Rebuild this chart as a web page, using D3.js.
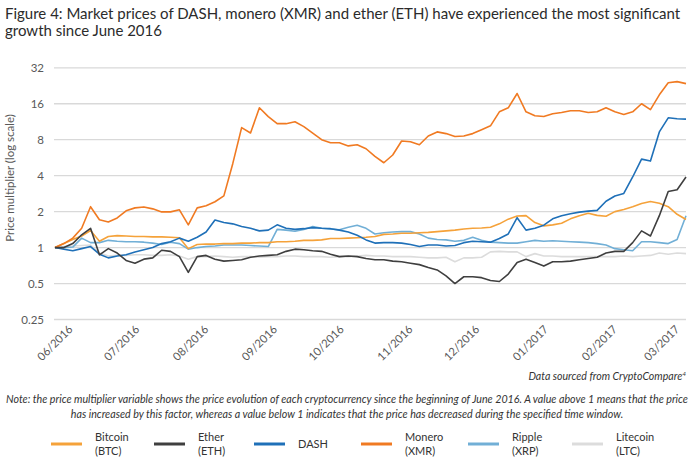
<!DOCTYPE html>
<html>
<head>
<meta charset="utf-8">
<script src="https://cdn.jsdelivr.net/npm/d3@7"></script>
<style>
  html, body { margin: 0; padding: 0; background: #fff; }
  svg { display: block; font-family: Lato, "Open Sans", sans-serif; }
</style>
</head>
<body>
<svg id="chart" width="695" height="471"></svg>
<script>
const dates = [
  "2016-06-01","2016-06-05","2016-06-09","2016-06-13","2016-06-17","2016-06-21","2016-06-25","2016-06-29",
  "2016-07-03","2016-07-07","2016-07-11","2016-07-15","2016-07-19","2016-07-23","2016-07-27","2016-07-31",
  "2016-08-04","2016-08-08","2016-08-12","2016-08-16","2016-08-20","2016-08-24","2016-08-28",
  "2016-09-01","2016-09-05","2016-09-09","2016-09-13","2016-09-17","2016-09-21","2016-09-25","2016-09-29",
  "2016-10-03","2016-10-07","2016-10-11","2016-10-15","2016-10-19","2016-10-23","2016-10-27","2016-10-31",
  "2016-11-04","2016-11-08","2016-11-12","2016-11-16","2016-11-20","2016-11-24","2016-11-28",
  "2016-12-02","2016-12-06","2016-12-10","2016-12-14","2016-12-18","2016-12-22","2016-12-26","2016-12-30",
  "2017-01-03","2017-01-07","2017-01-11","2017-01-15","2017-01-19","2017-01-23","2017-01-27","2017-01-31",
  "2017-02-04","2017-02-08","2017-02-12","2017-02-16","2017-02-20","2017-02-24","2017-02-28",
  "2017-03-04","2017-03-08","2017-03-12"
];

const bitcoin = [
  1.00,1.08,1.17,1.25,1.39,1.13,1.24,1.26,
  1.25,1.24,1.24,1.23,1.23,1.22,1.21,0.98,
  1.06,1.07,1.07,1.08,1.08,1.09,1.09,
  1.10,1.10,1.12,1.12,1.13,1.15,1.15,1.16,
  1.19,1.19,1.20,1.21,1.22,1.24,1.29,1.30,
  1.32,1.32,1.33,1.34,1.36,1.38,1.40,
  1.43,1.45,1.46,1.48,1.58,1.73,1.84,1.85,
  1.62,1.52,1.55,1.60,1.74,1.85,1.94,1.86,
  1.83,2.00,2.08,2.20,2.34,2.43,2.35,
  2.20,1.90,1.72
];

const ether = [
  1.00,1.00,1.08,1.28,1.45,0.87,0.98,0.90,
  0.78,0.74,0.80,0.82,0.95,0.93,0.84,0.62,
  0.84,0.86,0.80,0.77,0.78,0.79,0.83,
  0.85,0.86,0.87,0.93,0.97,0.96,0.94,0.93,
  0.88,0.84,0.85,0.84,0.81,0.79,0.79,0.77,
  0.76,0.74,0.72,0.68,0.65,0.58,0.50,
  0.57,0.57,0.56,0.53,0.52,0.60,0.75,0.80,
  0.75,0.70,0.76,0.76,0.77,0.79,0.81,0.83,
  0.90,0.93,0.93,1.10,1.38,1.25,1.85,
  2.95,3.05,3.90
];

const dash = [
  1.00,0.97,0.94,0.98,1.02,0.88,0.82,0.85,
  0.87,0.92,0.96,1.00,1.08,1.12,1.20,1.13,
  1.22,1.35,1.70,1.62,1.58,1.50,1.45,
  1.38,1.40,1.55,1.45,1.42,1.44,1.47,1.45,
  1.44,1.40,1.35,1.27,1.16,1.09,1.10,1.10,
  1.09,1.06,1.02,1.05,1.05,1.03,1.04,
  1.10,1.13,1.12,1.11,1.19,1.30,1.78,1.40,
  1.45,1.54,1.74,1.85,1.92,1.98,2.02,2.05,
  2.44,2.70,2.84,3.90,5.50,5.30,9.30,
  12.2,12.0,11.9
];

const monero = [
  1.00,1.08,1.20,1.45,2.20,1.71,1.64,1.77,
  2.03,2.15,2.19,2.11,1.99,1.99,2.07,1.55,
  2.15,2.24,2.42,2.71,5.04,10.1,9.1,
  14.8,12.5,10.9,10.9,11.3,10.3,9.1,8.0,
  7.55,7.55,7.1,7.26,6.72,5.8,5.13,5.96,
  7.8,7.7,7.26,8.6,9.3,9.0,8.5,
  8.6,9.0,9.7,10.45,13.7,14.8,19.5,13.7,
  12.7,12.5,13.2,13.5,14.0,14.0,13.5,13.7,
  14.8,13.7,13.0,13.7,16.0,14.3,19.0,
  24.0,24.5,23.6
];

const ripple = [
  1.00,1.00,1.01,1.20,1.10,1.10,1.15,1.13,
  1.12,1.12,1.11,1.09,1.06,1.11,1.08,0.97,
  1.00,1.02,1.03,1.05,1.05,1.05,1.04,
  1.03,1.02,1.42,1.40,1.37,1.42,1.50,1.45,
  1.43,1.41,1.48,1.54,1.45,1.30,1.33,1.35,
  1.36,1.36,1.30,1.20,1.17,1.16,1.13,
  1.15,1.22,1.15,1.11,1.10,1.09,1.09,1.12,
  1.15,1.13,1.14,1.13,1.12,1.11,1.10,1.08,
  1.05,0.98,0.96,0.94,1.12,1.12,1.10,
  1.08,1.17,1.85
];

const litecoin = [
  1.00,1.02,1.03,1.04,1.05,0.90,0.85,0.86,
  0.86,0.87,0.87,0.86,0.86,0.87,0.85,0.80,
  0.84,0.84,0.85,0.84,0.83,0.84,0.84,
  0.83,0.84,0.84,0.85,0.85,0.84,0.84,0.84,
  0.83,0.84,0.84,0.85,0.86,0.85,0.85,0.84,
  0.84,0.84,0.83,0.82,0.82,0.83,0.76,
  0.82,0.82,0.83,0.92,0.93,0.92,0.92,0.84,
  0.89,0.85,0.85,0.84,0.84,0.84,0.84,0.84,
  0.84,0.84,0.85,0.84,0.85,0.86,0.90,
  0.88,0.90,0.89
];

const seriesNames = ["Bitcoin\n(BTC)", "Ether\n(ETH)", "DASH", "Monero\n(XMR)", "Ripple\n(XRP)", "Litecoin\n(LTC)"];
const seriesColors = ["#F5A23A", "#3F3F3F", "#1F70B8", "#F07A22", "#71AFD6", "#DCDCDC"];
const seriesValues = [bitcoin, ether, dash, monero, ripple, litecoin];
const drawOrder = [5, 4, 0, 2, 3, 1];

const yTicks = [0.25, 0.5, 1, 2, 4, 8, 16, 32];
const yTickLabels = ["0.25", "0.5", "1", "2", "4", "8", "16", "32"];
const xTickDates = ["2016-06-01","2016-07-01","2016-08-01","2016-09-01","2016-10-01","2016-11-01","2016-12-01","2017-01-01","2017-02-01","2017-03-01"];
const xTickLabels = ["06/2016","07/2016","08/2016","09/2016","10/2016","11/2016","12/2016","01/2017","02/2017","03/2017"];

const titleLines = [
  "Figure 4: Market prices of DASH, monero (XMR) and ether (ETH) have experienced the most significant",
  "growth since June 2016"
];
const yAxisTitle = "Price multiplier (log scale)";
const sourceText = "Data sourced from CryptoCompare";
const noteLines = [
  "Note: the price multiplier variable shows the price evolution of each cryptocurrency since the beginning of June 2016. A value above 1 means that the price",
  "has increased by this factor, whereas a value below 1 indicates that the price has decreased during the specified time window."
];

const parse = d3.timeParse("%Y-%m-%d");
const svg = d3.select("#chart");

const x = d3.scaleTime()
  .domain([parse(dates[0]), parse(dates[dates.length - 1])])
  .range([55, 686]);
const y = d3.scaleLog().base(2).domain([0.25, 32]).range([319.5, 67.8]);

// Title
svg.append("g").selectAll("text").data(titleLines).join("text")
  .attr("x", 5).attr("y", (d, i) => 19 + i * 17)
  .attr("font-size", 15).attr("fill", "#2b2b2b")
  .text(d => d);

// Gridlines
svg.append("g").selectAll("line").data(yTicks).join("line")
  .attr("x1", 54).attr("x2", 686)
  .attr("y1", d => y(d)).attr("y2", d => y(d))
  .attr("stroke", "#d9d9d9").attr("stroke-width", 1.3);

// Y axis
const yAxis = d3.axisLeft(y).tickValues(yTicks)
  .tickFormat((d, i) => yTickLabels[i]).tickSize(0).tickPadding(0);
const gy = svg.append("g").attr("transform", "translate(44,0)").call(yAxis);
gy.select(".domain").remove();
gy.selectAll("text").attr("font-size", 11.5).attr("fill", "#595959")
  .attr("font-family", "Lato, sans-serif");

svg.append("text")
  .attr("transform", "translate(14,178) rotate(-90)")
  .attr("text-anchor", "middle").attr("font-size", 11.5).attr("fill", "#595959")
  .text(yAxisTitle);

// X axis labels
const xAxis = d3.axisBottom(x).tickValues(xTickDates.map(parse))
  .tickFormat((d, i) => xTickLabels[i]).tickSize(0).tickPadding(0);
const gx = svg.append("g").attr("transform", "translate(0,326)").call(xAxis);
gx.select(".domain").remove();
gx.selectAll("text")
  .attr("font-size", 11.3).attr("fill", "#595959").attr("font-family", "Lato, sans-serif")
  .attr("text-anchor", "end").attr("dy", 0)
  .attr("transform", "translate(18,4) rotate(-45)");

// Lines
const line = d3.line()
  .x((d, i) => x(parse(dates[i])))
  .y(d => y(d));

svg.append("g").selectAll("path").data(drawOrder).join("path")
  .attr("d", k => line(seriesValues[k]))
  .attr("fill", "none")
  .attr("stroke", k => seriesColors[k])
  .attr("stroke-width", 1.6)
  .attr("stroke-linejoin", "round");

// Source
const src = svg.append("text")
  .attr("x", 686).attr("y", 380).attr("text-anchor", "end")
  .attr("font-size", 10.6).attr("font-style", "italic").attr("fill", "#333");
src.append("tspan").text(sourceText);
src.append("tspan").attr("font-size", 6.5).attr("dy", -4).text("4");

// Note
svg.append("g").selectAll("text").data(noteLines).join("text")
  .attr("x", 347).attr("y", (d, i) => 403 + i * 15)
  .attr("text-anchor", "middle").attr("font-size", 10.7)
  .attr("font-style", "italic").attr("fill", "#333")
  .text(d => d);

// Legend
const legendX = [51, 154, 254, 361, 468, 572];
const lg = svg.append("g").selectAll("g").data(seriesNames).join("g")
  .attr("transform", (d, i) => `translate(${legendX[i]},0)`);
lg.append("line")
  .attr("x1", 0).attr("x2", 31).attr("y1", 444).attr("y2", 444)
  .attr("stroke", (d, i) => seriesColors[i]).attr("stroke-width", 3);
lg.each(function(d) {
  const parts = d.split("\n");
  const t = d3.select(this).append("text")
    .attr("font-size", 11).attr("fill", "#333");
  parts.forEach((p, j) => {
    t.append("tspan").attr("x", 44)
      .attr("y", parts.length === 1 ? 448 : 441 + j * 14)
      .text(p);
  });
});
</script>
</body>
</html>
